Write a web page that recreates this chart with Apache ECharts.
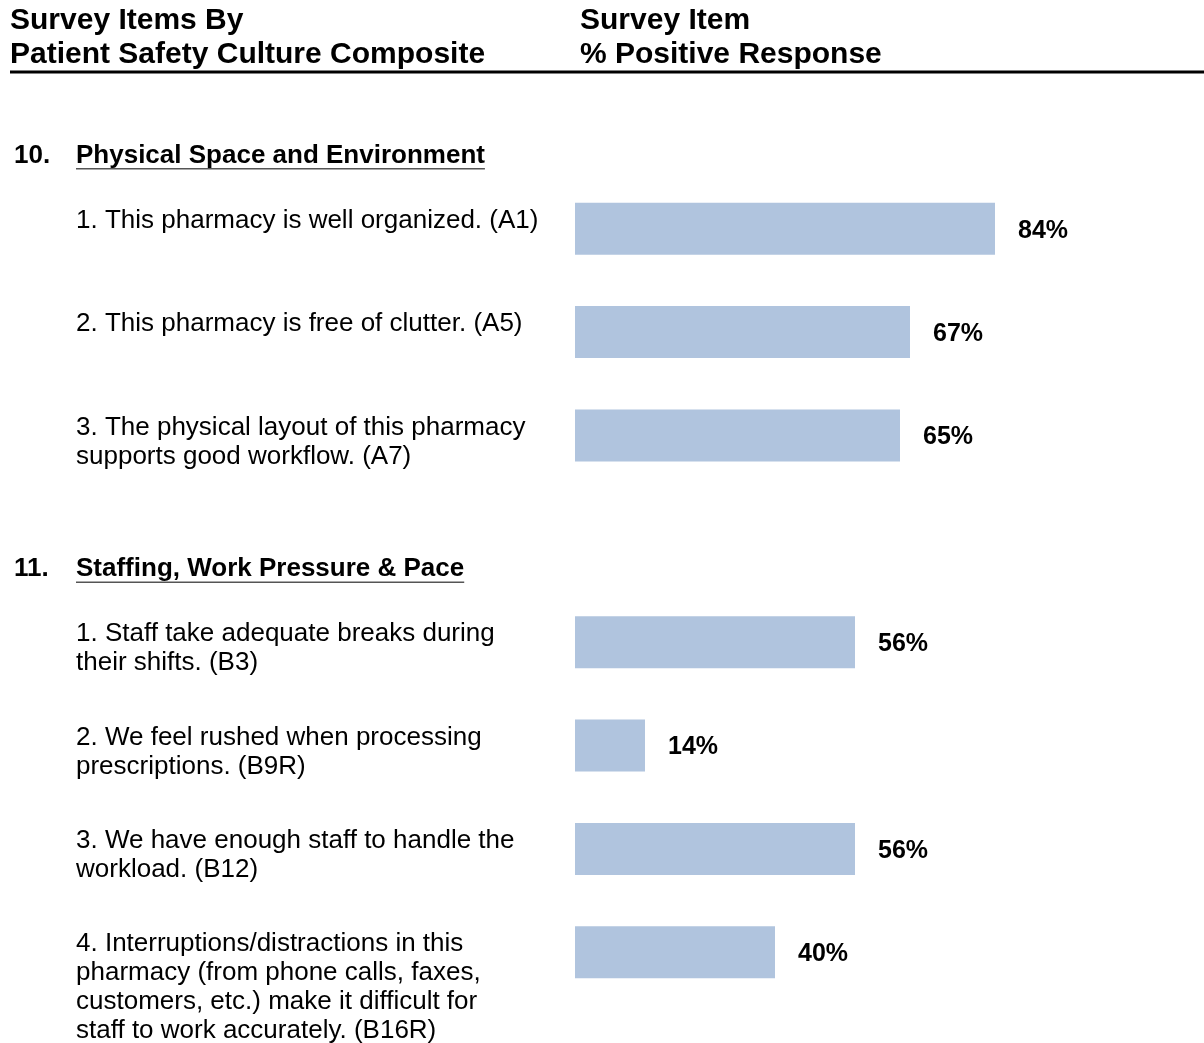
<!DOCTYPE html>
<html>
<head>
<meta charset="utf-8">
<script src="https://cdn.jsdelivr.net/npm/echarts@6/dist/echarts.min.js"></script>
<style>
html,body{margin:0;padding:0;background:#fff;}
#chart{width:1204px;height:1043px;}
</style>
</head>
<body>
<div id="chart"></div>
<script>
// ---- data ----
const categories = ['A1', 'A5', 'A7', 'gap', 'B3', 'B9R', 'B12', 'B16R'];
const values = [84, 67, 65, null, 56, 14, 56, 40];
const itemLabels = [
  '1. This pharmacy is well organized. (A1)',
  '2. This pharmacy is free of clutter. (A5)',
  '3. The physical layout of this pharmacy\nsupports good workflow. (A7)',
  '',
  '1. Staff take adequate breaks during\ntheir shifts. (B3)',
  '2. We feel rushed when processing\nprescriptions. (B9R)',
  '3. We have enough staff to handle the\nworkload. (B12)',
  '4. Interruptions/distractions in this\npharmacy (from phone calls, faxes,\ncustomers, etc.) make it difficult for\nstaff to work accurately. (B16R)'
];
const sectionNumbers = ['10.', '11.'];
const sectionTitles = ['Physical Space and Environment', 'Staffing, Work Pressure & Pace'];
const sectionFirstItem = ['A1', 'B3'];
const headerLeft = 'Survey Items By\nPatient Safety Culture Composite';
const headerRight = 'Survey Item\n% Positive Response';

const FONT = '"Liberation Sans", Arial, Helvetica, sans-serif';
const chart = echarts.init(document.getElementById('chart'), null, {renderer: 'canvas'});

chart.setOption({
  animation: false,
  backgroundColor: '#fff',
  grid: {left: 575, right: 129, top: 177, bottom: 39, containLabel: false},
  xAxis: {type: 'value', min: 0, max: 100, show: false},
  yAxis: {
    type: 'category', data: categories, inverse: true,
    axisLine: {show: false}, axisTick: {show: false}, axisLabel: {show: false}, splitLine: {show: false}
  },
  series: [{
    type: 'bar',
    data: values,
    barWidth: 52,
    itemStyle: {color: '#b0c4de'},
    label: {
      show: true, position: 'right', distance: 23, offset: [0, 2],
      formatter: p => p.value == null ? '' : p.value + '%',
      fontFamily: FONT, fontWeight: 'bold', fontSize: 25, color: '#000'
    }
  }]
});

// measure text width for underlines
const ctx = document.createElement('canvas').getContext('2d');
function textWidth(t, font) { ctx.font = font; return ctx.measureText(t).width; }

const graphics = [];
// top headers
graphics.push({type: 'text', left: 10, top: 4, style: {text: headerLeft, font: 'bold 30px ' + FONT, lineHeight: 34, fill: '#000'}});
graphics.push({type: 'text', left: 580, top: 4, style: {text: headerRight, font: 'bold 30px ' + FONT, lineHeight: 34, fill: '#000'}});
graphics.push({type: 'line', shape: {x1: 10, y1: 72, x2: 1204, y2: 72}, style: {stroke: '#000', lineWidth: 3}});

// item labels
categories.forEach((c, i) => {
  if (!itemLabels[i]) return;
  const y = chart.convertToPixel({yAxisIndex: 0}, c);
  graphics.push({type: 'text', x: 76, y: y - 22.5,
    style: {text: itemLabels[i], font: '26px ' + FONT, lineHeight: 29, fill: '#000', verticalAlign: 'top', align: 'left'}});
});

// section headers
sectionTitles.forEach((t, i) => {
  const y = chart.convertToPixel({yAxisIndex: 0}, sectionFirstItem[i]) - 73;
  graphics.push({type: 'text', x: 14, y: y, style: {text: sectionNumbers[i], font: 'bold 26px ' + FONT, fill: '#000', verticalAlign: 'middle'}});
  graphics.push({type: 'text', x: 76, y: y, style: {text: t, font: 'bold 26px ' + FONT, fill: '#000', verticalAlign: 'middle'}});
  const w = textWidth(t, 'bold 26px ' + FONT);
  graphics.push({type: 'line', shape: {x1: 76, y1: y + 13, x2: 76 + w, y2: y + 13}, style: {stroke: '#555', lineWidth: 1.5}});
});

chart.setOption({graphic: graphics});
</script>
</body>
</html>
